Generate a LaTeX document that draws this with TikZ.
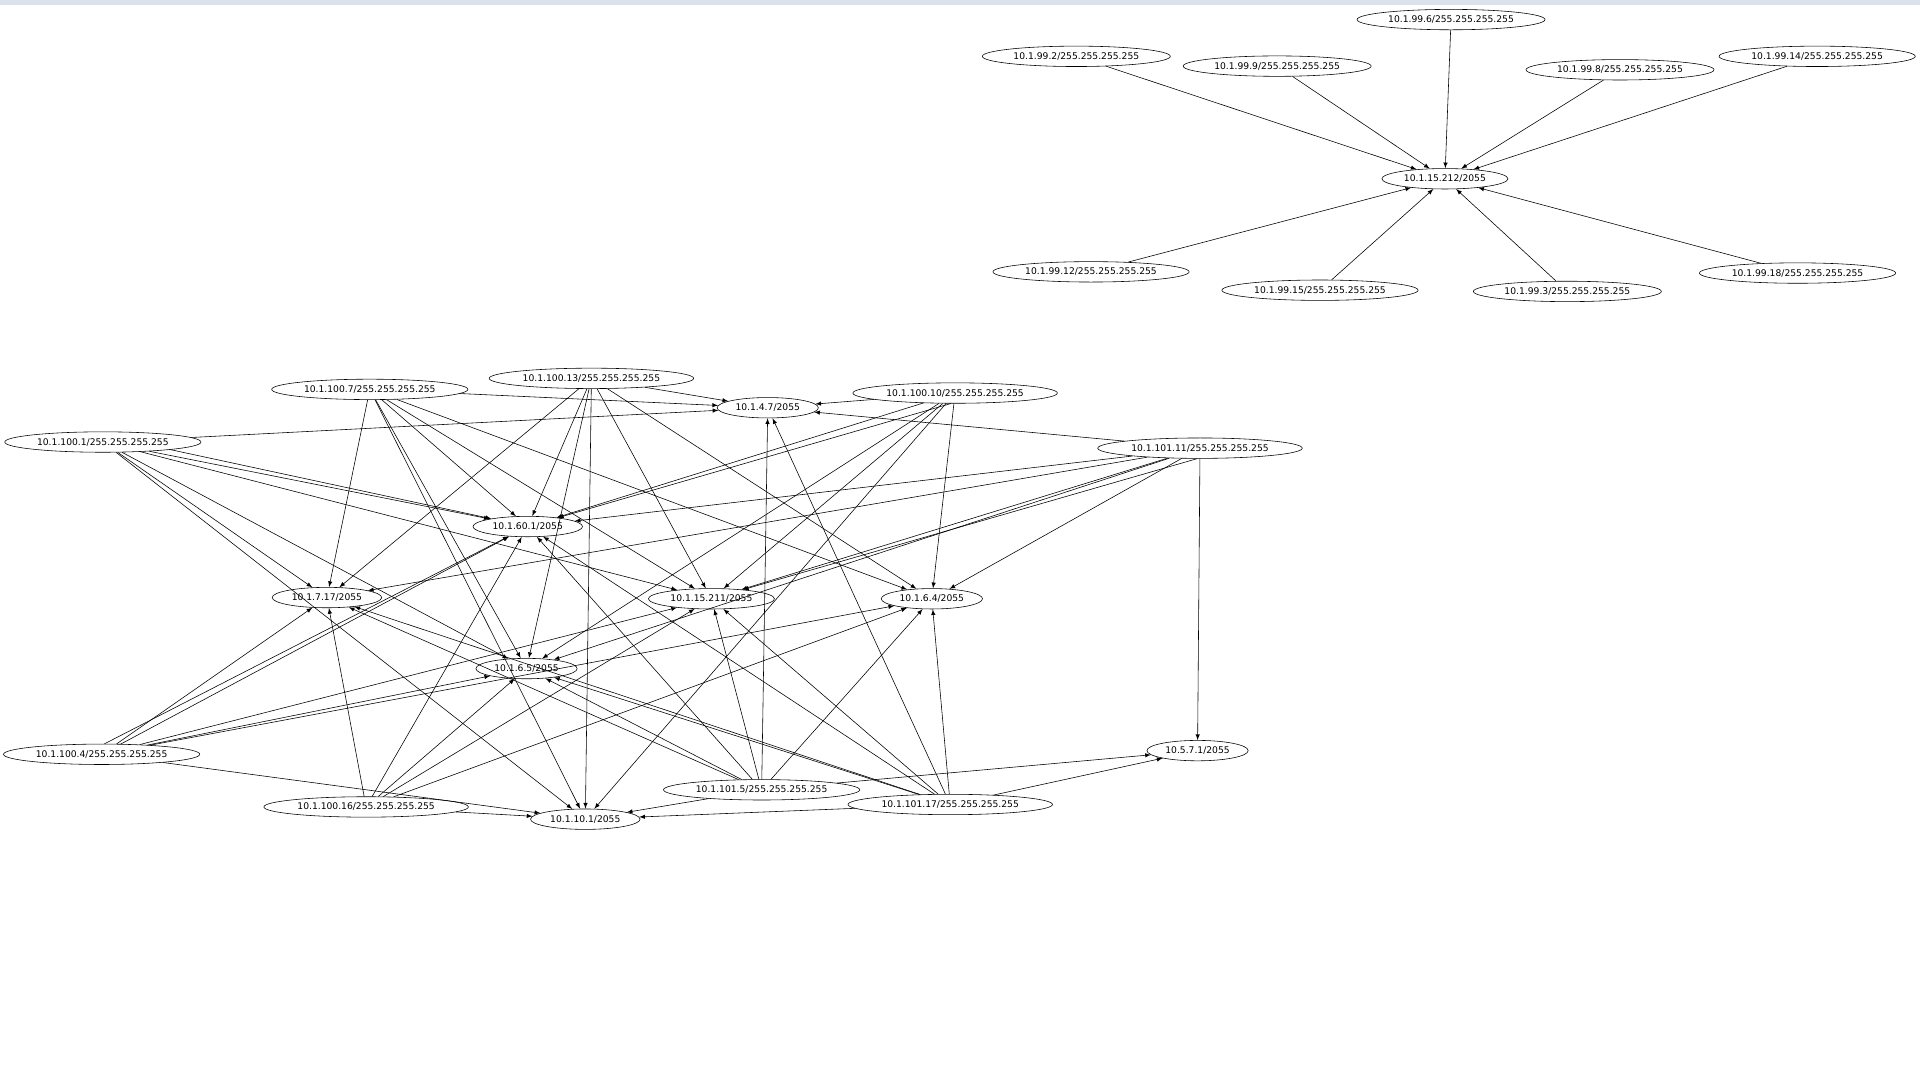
\documentclass[tikz,border=0pt]{standalone}
\usepackage{fontspec}
\setmainfont{DejaVu Sans}
\usetikzlibrary{arrows,shapes}
\definecolor{barblue}{RGB}{220,225,238}
\begin{document}
\begin{tikzpicture}[x=0.3mm,y=-0.3mm]
\tikzstyle{ip}=[ellipse, draw, inner xsep=2.5pt, inner ysep=0.2pt, minimum height=5mm, font=\fontsize{6.4}{7}\selectfont]
\tikzstyle{lnk}=[-latex, line width=0.4pt]
\useasboundingbox (0,0) rectangle (1568,882);
\fill[barblue] (0,0) rectangle (1568,4);
% upper cluster
\node[ip] (hub) at (1180,146){10.1.15.212/2055};
\node[ip] (a6) at (1185,16){10.1.99.6/255.255.255.255};
\node[ip] (a2) at (879,46){10.1.99.2/255.255.255.255};
\node[ip] (a9) at (1043,54){10.1.99.9/255.255.255.255};
\node[ip] (a8) at (1323,57){10.1.99.8/255.255.255.255};
\node[ip] (a14) at (1484,46){10.1.99.14/255.255.255.255};
\node[ip] (a12) at (891,222){10.1.99.12/255.255.255.255};
\node[ip] (a15) at (1078,237){10.1.99.15/255.255.255.255};
\node[ip] (a3) at (1280,238){10.1.99.3/255.255.255.255};
\node[ip] (a18) at (1468,223){10.1.99.18/255.255.255.255};
\foreach \s in {a6,a2,a9,a8,a14,a12,a15,a3,a18}{\draw[lnk] (\s) -- (hub);}
% lower cluster
\node[ip] (d47) at (627,333){10.1.4.7/2055};
\node[ip] (d60) at (431,430){10.1.60.1/2055};
\node[ip] (d717) at (267,488){10.1.7.17/2055};
\node[ip] (d15211) at (581,489){10.1.15.211/2055};
\node[ip] (d64) at (761,489){10.1.6.4/2055};
\node[ip] (d65) at (430,546){10.1.6.5/2055};
\node[ip] (d101) at (478,669){10.1.10.1/2055};
\node[ip] (d571) at (978,613){10.5.7.1/2055};
\node[ip] (s1) at (84,361){10.1.100.1/255.255.255.255};
\node[ip] (s7) at (302,318){10.1.100.7/255.255.255.255};
\node[ip] (s13) at (483,309){10.1.100.13/255.255.255.255};
\node[ip] (s10) at (780,321){10.1.100.10/255.255.255.255};
\node[ip] (s11) at (980,366){10.1.101.11/255.255.255.255};
\node[ip] (s4) at (83,616){10.1.100.4/255.255.255.255};
\node[ip] (s16) at (299,659){10.1.100.16/255.255.255.255};
\node[ip] (s5) at (622,645){10.1.101.5/255.255.255.255};
\node[ip] (s17) at (776,657){10.1.101.17/255.255.255.255};
\foreach \t in {d47,d60,d15211,d717,d65,d101}{\draw[lnk] (s1) -- (\t);}
\foreach \t in {d47,d60,d717,d65,d15211,d64,d101}{\draw[lnk] (s7) -- (\t);}
\foreach \t in {d47,d60,d717,d65,d15211,d64,d101}{\draw[lnk] (s13) -- (\t);}
\foreach \t in {d47,d60,d65,d15211,d64,d101}{\draw[lnk] (s10) -- (\t);}
\foreach \t in {d47,d60,d717,d15211,d65,d64,d571}{\draw[lnk] (s11) -- (\t);}
\foreach \t in {d717,d60,d65,d15211,d64,d101}{\draw[lnk] (s4) -- (\t);}
\foreach \t in {d717,d60,d65,d15211,d64,d101}{\draw[lnk] (s16) -- (\t);}
\foreach \t in {d47,d15211,d60,d65,d717,d64,d101,d571}{\draw[lnk] (s5) -- (\t);}
\foreach \t in {d47,d15211,d60,d65,d717,d64,d101,d571}{\draw[lnk] (s17) -- (\t);}
\draw[lnk] ([xshift=-2pt]s1.south east) -- (d60);
\draw[lnk] ([xshift=2pt]s4.north) -- (d60);
\draw[lnk] ([xshift=-3pt]s10.south) -- (d60);
\draw[lnk] ([xshift=-2pt]s11.south) -- (d15211);
\end{tikzpicture}
\end{document}
